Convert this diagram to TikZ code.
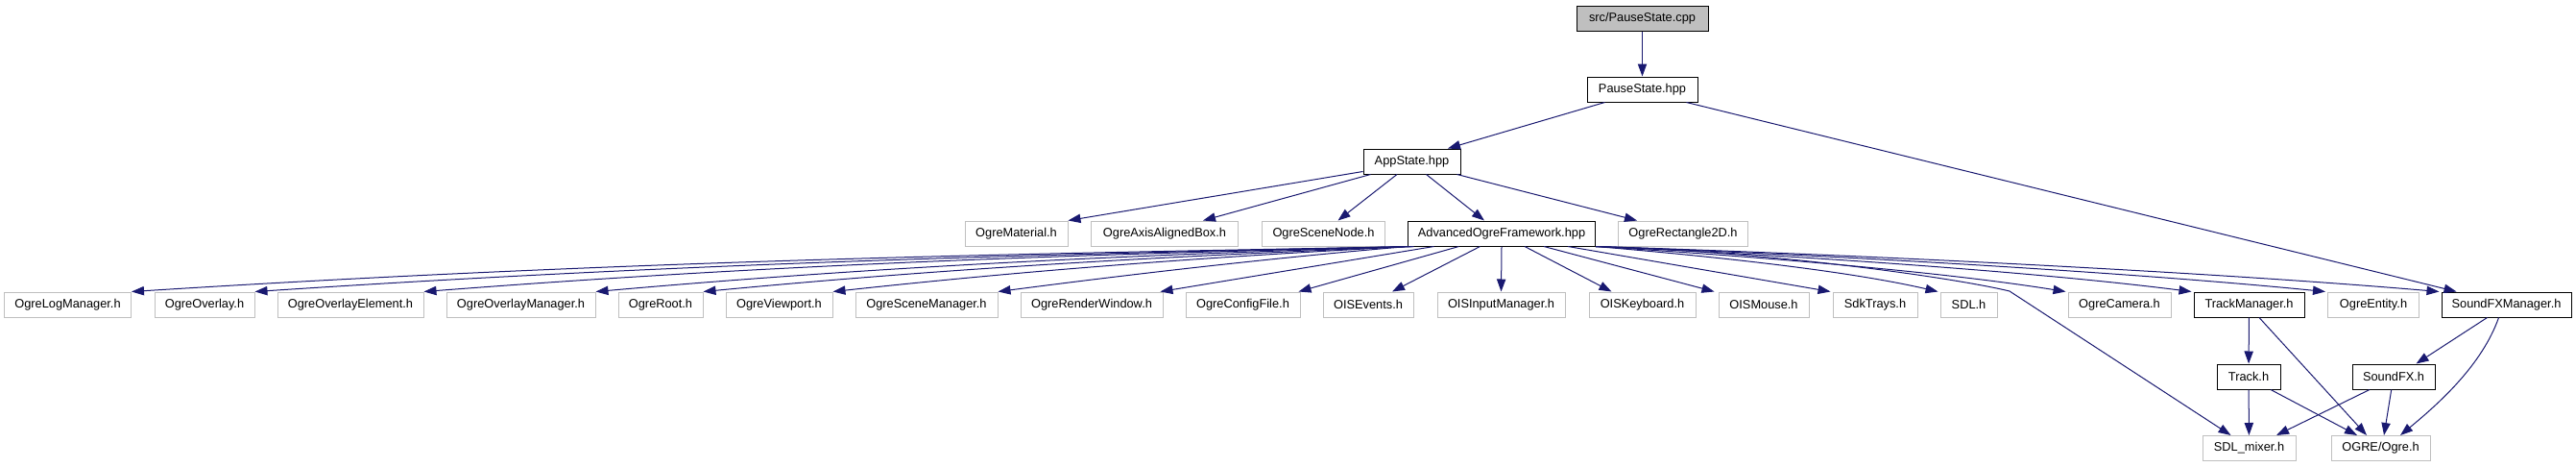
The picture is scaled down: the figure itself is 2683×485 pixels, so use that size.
\documentclass[tikz,border=0pt]{standalone}
\usepackage{fontspec}
\setmainfont{Liberation Sans}
\usetikzlibrary{arrows.meta}
\definecolor{edgeblue}{HTML}{191970}
\definecolor{boxgray}{HTML}{BFBFBF}
\begin{document}
\begin{tikzpicture}[x=1pt,y=-1pt,
  base/.style={rectangle, minimum height=26pt, inner sep=0pt, font=\fontsize{12.8}{15}\selectfont, fill=white},
  ext/.style={base, draw=boxgray, line width=1pt},
  doc/.style={base, draw=black, line width=1pt},
  rootnode/.style={doc, fill=boxgray},
  dep/.style={draw=edgeblue, line width=1pt, -{Triangle[length=13pt,width=9.3pt]}}]
\useasboundingbox (0,0) rectangle (2683,485);
% level 0-2
\node[rootnode, minimum width=137pt] (cpp) at (1710.5,19) {src/PauseState.cpp};
\node[doc, minimum width=115pt] (psh) at (1710.5,93) {PauseState.hpp};
\node[doc, minimum width=101pt] (app) at (1470.5,168) {AppState.hpp};
% level 3
\node[ext, minimum width=107pt] (mat) at (1058.5,243) {OgreMaterial.h};
\node[ext, minimum width=153pt] (aab) at (1213,243) {OgreAxisAlignedBox.h};
\node[ext, minimum width=128pt] (sn) at (1378.5,243) {OgreSceneNode.h};
\node[doc, minimum width=195pt] (aof) at (1564,243) {AdvancedOgreFramework.hpp};
\node[ext, minimum width=135pt] (r2d) at (1753,243) {OgreRectangle2D.h};
% level 4
\node[ext, minimum width=132pt] (lm) at (70.5,317) {OgreLogManager.h};
\node[ext, minimum width=104pt] (ov) at (213,317) {OgreOverlay.h};
\node[ext, minimum width=152pt] (ove) at (365,317) {OgreOverlayElement.h};
\node[ext, minimum width=155pt] (ovm) at (542.5,317) {OgreOverlayManager.h};
\node[ext, minimum width=88pt] (root) at (688,317) {OgreRoot.h};
\node[ext, minimum width=111pt] (vp) at (811.5,317) {OgreViewport.h};
\node[ext, minimum width=148pt] (scm) at (965,317) {OgreSceneManager.h};
\node[ext, minimum width=148pt] (rw) at (1137,317) {OgreRenderWindow.h};
\node[ext, minimum width=119pt] (cf) at (1294.5,317) {OgreConfigFile.h};
\node[ext, minimum width=94pt] (oise) at (1425,317) {OISEvents.h};
\node[ext, minimum width=133pt] (oisim) at (1563.5,317) {OISInputManager.h};
\node[ext, minimum width=111pt] (oisk) at (1710.5,317) {OISKeyboard.h};
\node[ext, minimum width=94pt] (oism) at (1837,317) {OISMouse.h};
\node[ext, minimum width=88pt] (sdk) at (1953,317) {SdkTrays.h};
\node[ext, minimum width=59pt] (sdl) at (2050.5,317) {SDL.h};
\node[ext, minimum width=107pt] (cam) at (2207.5,317) {OgreCamera.h};
\node[doc, minimum width=115pt] (tm) at (2342.5,317) {TrackManager.h};
\node[ext, minimum width=95pt] (ent) at (2472,317) {OgreEntity.h};
\node[doc, minimum width=135pt] (sfm) at (2610.5,317) {SoundFXManager.h};
% level 5-6
\node[doc, minimum width=66pt] (trk) at (2342,392) {Track.h};
\node[doc, minimum width=86pt] (sfx) at (2493,392) {SoundFX.h};
\node[ext, minimum width=97pt] (mix) at (2342.5,466.5) {SDL\_mixer.h};
\node[ext, minimum width=103pt] (ogre) at (2479.5,466.5) {OGRE/Ogre.h};
% edges top
\draw[dep] (cpp.south) -- (psh.north);
\draw[dep] ([xshift=-39pt]psh.south) -- ([xshift=37.5pt]app.north);
\draw[dep] ([xshift=46pt]psh.south) -- ([xshift=-52pt]sfm.north);
% AppState
\draw[dep] ([yshift=3pt]app.south west) -- (mat.north east);
\draw[dep] ([xshift=8pt]app.south west) -- ([xshift=40pt]aab.north);
\draw[dep] ([xshift=-15.5pt]app.south) -- ([xshift=15pt]sn.north);
\draw[dep] ([xshift=15pt]app.south) -- ([xshift=-18pt]aof.north);
\draw[dep] ([xshift=-4pt]app.south east) -- ([xshift=-48pt]r2d.north);
% AOF left curves
\draw[dep] ([xshift=6.5pt]aof.south west) .. controls (1152,263) and (698,268) .. (lm.north east);
\draw[dep] ([xshift=5.5pt]aof.south west) .. controls (1182,263) and (772,270) .. (ov.north east);
\draw[dep] ([xshift=4.5pt]aof.south west) .. controls (1224,263) and (874,270) .. (ove.north east);
\draw[dep] ([xshift=3.5pt]aof.south west) .. controls (1266,263) and (977,272) .. (ovm.north east);
\draw[dep] ([xshift=2.5pt]aof.south west) .. controls (1292,264) and (1042,274) .. (root.north east);
\draw[dep] ([xshift=1.5pt]aof.south west) .. controls (1324,264) and (1120,276) .. (vp.north east);
\draw[dep] ([xshift=0.5pt]aof.south west) .. controls (1364,265) and (1219,280) .. (scm.north east);
% AOF straight
\draw[dep] ([xshift=27.5pt]aof.south west) -- ([xshift=-3pt]rw.north east);
\draw[dep] ([xshift=53.5pt]aof.south west) -- ([xshift=-2pt]cf.north east);
\draw[dep] ([xshift=-22.5pt]aof.south) -- ([xshift=25pt]oise.north);
\draw[dep] (aof.south) -- (oisim.north);
\draw[dep] ([xshift=24pt]aof.south) -- ([xshift=-32pt]oisk.north);
\draw[dep] ([xshift=44pt]aof.south) -- ([xshift=-4pt]oism.north west);
\draw[dep] ([xshift=69pt]aof.south) -- ([xshift=-2pt]sdk.north west);
% AOF right curves
\draw[dep] (aof.south east) .. controls (1751,264) and (1912,279) .. ([xshift=-2pt]sdl.north west);
\draw[dep] (aof.south east) .. controls (1784,264) and (2005,280) .. ([xshift=-2pt]cam.north west);
\draw[dep] (aof.south east) .. controls (1817,263) and (2097,280) .. ([xshift=-2pt]tm.north west);
\draw[dep] (aof.south east) .. controls (1852,263) and (2194,281) .. ([xshift=-2pt]ent.north west);
\draw[dep] (aof.south east) .. controls (1881,263) and (2277,281) .. ([xshift=-2pt]sfm.north west);
\draw[dep] (aof.south east) .. controls (1850,262) and (2040,290) .. (2093,303) -- ([xshift=-19pt]mix.north);
% bottom
\draw[dep] (tm) -- (trk);
\draw[dep] ([xshift=10.5pt]tm.south) -- ([xshift=-14.5pt]ogre.north);
\draw[dep] ([xshift=-20pt]sfm.south) -- ([xshift=23.5pt]sfx.north);
\draw[dep] ([xshift=-8pt]sfm.south) .. controls (2585,380) and (2540,420) .. ([xshift=20.5pt]ogre.north);
\draw[dep] (trk) -- (mix);
\draw[dep] ([xshift=23pt]trk.south) -- ([xshift=-24.5pt]ogre.north);
\draw[dep] ([xshift=-25pt]sfx.south) -- ([xshift=28.5pt]mix.north);
\draw[dep] ([xshift=-2.3pt]sfx.south) -- ([xshift=3.5pt]ogre.north);
\end{tikzpicture}
\end{document}
